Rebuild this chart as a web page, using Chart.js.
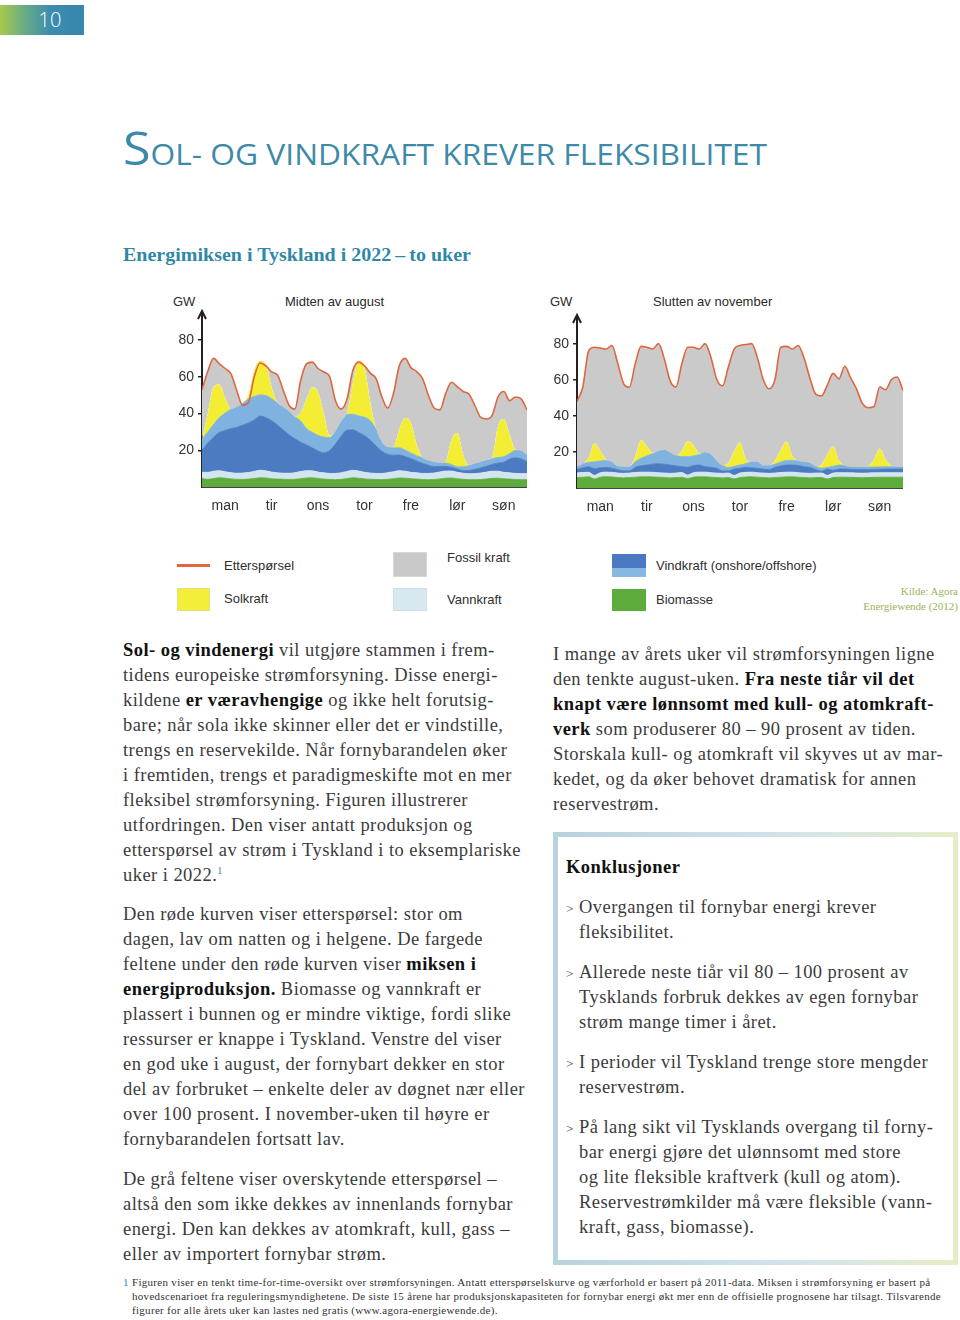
<!DOCTYPE html>
<html lang="no">
<head>
<meta charset="utf-8">
<title>Sol- og vindkraft krever fleksibilitet</title>
<script src="https://cdn.jsdelivr.net/npm/chart.js@4.4.1/dist/chart.umd.min.js"></script>
<style>
  html, body { margin: 0; padding: 0; background: #fff; }
  body { width: 960px; height: 1320px; position: relative; overflow: hidden;
         font-family: 'Liberation Serif', 'Times New Roman', serif; color: #3b3b3b; }
  .abs { position: absolute; white-space: nowrap; }
  #pageno { left: 0; top: 5px; width: 84px; height: 30px; padding-left: 16px; box-sizing: border-box;
            background: linear-gradient(to right, #a9c94b 0%, #67ab86 30%, #3b8dad 60%, #3786ae 100%);
            color: #fff; font: 300 20px 'Open Sans', sans-serif; line-height: 30px; text-align: center; }
  #title { left: 123px; top: 120px; color: #3d8aa8; font-family: 'Open Sans', sans-serif; line-height: 54px;
           transform-origin: 0 50%; }
  #subtitle { left: 123px; top: 244px; font: bold 19px 'Liberation Serif', serif; color: #2f88a5;
              transform-origin: 0 50%; }
  .clab { font: 13px 'Liberation Sans', Arial, sans-serif; color: #2a2a2a; line-height: 16px; }
  canvas { position: absolute; }
  .sw { position: absolute; box-sizing: border-box; }
  .legt { font: 13px 'Liberation Sans', Arial, sans-serif; color: #2e2e2e; line-height: 18px; }
  #kilde { right: 2px; top: 584px; font: 11px 'Liberation Serif', serif; color: #98b558;
           line-height: 15px; text-align: right; }
  .txt { font-size: 18.5px; letter-spacing: 0.45px; line-height: 25px; color: #3b3b3b; }
  .txt b { color: #111; }
  .fn { color: #3b7fb0; font-size: 10px; position: relative; top: -7px; line-height: 0; }
  #box { position: absolute; left: 553px; top: 832px; width: 405px; height: 433px; box-sizing: border-box;
         border: 5px solid; border-image: linear-gradient(to right, #b8d2de, #d3e4ea 60%, #e4eec6) 1; }
  .bul { font-size: 13px; color: #444; }
  .foot { font-size: 11px; letter-spacing: 0.3px; line-height: 14px; color: #333; }
</style>
</head>
<body>

<div id="pageno" class="abs">10</div>
<div id="title" class="abs"><span style="font-size:46px">S</span><span style="font-size:29px">OL- OG VINDKRAFT KREVER FLEKSIBILITET</span></div>
<div id="subtitle" class="abs">Energimiksen i Tyskland i 2022&thinsp;–&thinsp;to uker</div>

<div class="clab abs" style="left:173px;top:294px">GW</div>
<div class="clab abs" style="left:285px;top:294px">Midten av august</div>
<div class="clab abs" style="left:550px;top:294px">GW</div>
<div class="clab abs" style="left:653px;top:294px">Slutten av november</div>

<canvas id="augChart" width="367" height="212" style="left:160px;top:305px"></canvas>
<canvas id="novChart" width="368" height="213" style="left:535px;top:305px"></canvas>

<!-- Legend -->
<div class="sw" style="left:177px;top:564px;width:33px;height:3px;background:#e0663e"></div>
<div class="legt abs" style="left:224px;top:557px">Etterspørsel</div>
<div class="sw" style="left:177px;top:588px;width:33px;height:23px;background:#f2ee3a;border:1px solid #e4e07a"></div>
<div class="legt abs" style="left:224px;top:590px">Solkraft</div>
<div class="sw" style="left:393px;top:552px;width:34px;height:25px;background:#c9c9c9;border:1px solid #d6d6d6"></div>
<div class="legt abs" style="left:447px;top:549px">Fossil kraft</div>
<div class="sw" style="left:393px;top:588px;width:34px;height:23px;background:#d8e8f1;border:1px solid #cfdfe8"></div>
<div class="legt abs" style="left:447px;top:591px">Vannkraft</div>
<div class="sw" style="left:612px;top:554px;width:34px;height:23px;background:linear-gradient(to bottom,#4b79c1 0%,#4b79c1 60%,#86b8e2 62%,#86b8e2 100%)"></div>
<div class="legt abs" style="left:656px;top:557px">Vindkraft (onshore/offshore)</div>
<div class="sw" style="left:612px;top:589px;width:34px;height:22px;background:#5cab3c"></div>
<div class="legt abs" style="left:656px;top:591px">Biomasse</div>
<div id="kilde" class="abs">Kilde: Agora<br>Energiewende (2012)</div>

<!-- Left column -->
<div class="txt abs" style="left:123px;top:638px">
<b>Sol- og vindenergi</b> vil utgjøre stammen i frem-<br>
tidens europeiske strømforsyning. Disse energi-<br>
kildene <b>er væravhengige</b> og ikke helt forutsig-<br>
bare; når sola ikke skinner eller det er vindstille,<br>
trengs en reservekilde. Når fornybarandelen øker<br>
i fremtiden, trengs et paradigmeskifte mot en mer<br>
fleksibel strømforsyning. Figuren illustrerer<br>
utfordringen. Den viser antatt produksjon og<br>
etterspørsel av strøm i Tyskland i to eksemplariske<br>
uker i 2022.<span class="fn">1</span>
</div>
<div class="txt abs" style="left:123px;top:902px">
Den røde kurven viser etterspørsel: stor om<br>
dagen, lav om natten og i helgene. De fargede<br>
feltene under den røde kurven viser <b>miksen i</b><br>
<b>energiproduksjon.</b> Biomasse og vannkraft er<br>
plassert i bunnen og er mindre viktige, fordi slike<br>
ressurser er knappe i Tyskland. Venstre del viser<br>
en god uke i august, der fornybart dekker en stor<br>
del av forbruket – enkelte deler av døgnet nær eller<br>
over 100 prosent. I november-uken til høyre er<br>
fornybarandelen fortsatt lav.
</div>
<div class="txt abs" style="left:123px;top:1167px">
De grå feltene viser overskytende etterspørsel –<br>
altså den som ikke dekkes av innenlands fornybar<br>
energi. Den kan dekkes av atomkraft, kull, gass –<br>
eller av importert fornybar strøm.
</div>

<!-- Right column -->
<div class="txt abs" style="left:553px;top:642px">
I mange av årets uker vil strømforsyningen ligne<br>
den tenkte august-uken. <b>Fra neste tiår vil det</b><br>
<b>knapt være lønnsomt med kull- og atomkraft-</b><br>
<b>verk</b> som produserer 80 – 90 prosent av tiden.<br>
Storskala kull- og atomkraft vil skyves ut av mar-<br>
kedet, og da øker behovet dramatisk for annen<br>
reservestrøm.
</div>

<div id="box"></div>
<div class="txt abs" style="left:566px;top:855px"><b>Konklusjoner</b></div>
<div class="txt abs" style="left:566px;top:895px"><span class="bul">&gt;</span></div>
<div class="txt abs" style="left:579px;top:895px">Overgangen til fornybar energi krever<br>fleksibilitet.</div>
<div class="txt abs" style="left:566px;top:960px"><span class="bul">&gt;</span></div>
<div class="txt abs" style="left:579px;top:960px">Allerede neste tiår vil 80 – 100 prosent av<br>Tysklands forbruk dekkes av egen fornybar<br>strøm mange timer i året.</div>
<div class="txt abs" style="left:566px;top:1050px"><span class="bul">&gt;</span></div>
<div class="txt abs" style="left:579px;top:1050px">I perioder vil Tyskland trenge store mengder<br>reservestrøm.</div>
<div class="txt abs" style="left:566px;top:1115px"><span class="bul">&gt;</span></div>
<div class="txt abs" style="left:579px;top:1115px">På lang sikt vil Tysklands overgang til forny-<br>bar energi gjøre det ulønnsomt med store<br>og lite fleksible kraftverk (kull og atom).<br>Reservestrømkilder må være fleksible (vann-<br>kraft, gass, biomasse).</div>

<!-- Footnote -->
<div class="foot abs" style="left:123px;top:1275px;color:#3b7fb0">1</div>
<div class="foot abs" style="left:132px;top:1275px">
Figuren viser en tenkt time-for-time-oversikt over strømforsyningen. Antatt etterspørselskurve og værforhold er basert på 2011-data. Miksen i strømforsyning er basert på<br>
hovedscenarioet fra reguleringsmyndighetene. De siste 15 årene har produksjonskapasiteten for fornybar energi økt mer enn de offisielle prognosene har tilsagt. Tilsvarende<br>
figurer for alle årets uker kan lastes ned gratis (www.agora-energiewende.de).
</div>

<script>
// Data: GW, sampled every 3 hours (8 points per day), monday 00 to sunday 24
const STEPS_PER_DAY = 8;
const dayLabels = ['man', 'tir', 'ons', 'tor', 'fre', 'lør', 'søn'];
const yTicks = [20, 40, 60, 80];

// Midten av august
const augDemand = [53,63,70,67,64.5,61.6,52.4,44.5, 46,60,67.5,66,62.7,61,52.7,44.5,
  42.4,58,67,68,64.5,62.6,60,47, 42.4,48,63.5,68,66,62,59,49,
  43,51,66,70,65,62.8,59,50, 43,42,51,57,54.5,52,50.5,44.5,
  38,37,39,49,52,47,49,48,42];
const augBiomasse = [4.5,4.2,4.6,5.0,4.8,4.4,4.2,4.1, 4.3,4.6,5.0,4.9,4.5,4.3,4.2,4.1,
  4.2,4.5,4.9,5.0,4.6,4.3,4.1,4.0, 4.2,4.6,5.0,4.8,4.4,4.2,4.1,4.0,
  4.2,4.5,4.9,4.8,4.5,4.3,4.1,4.0, 4.1,4.4,4.8,4.9,4.5,4.2,4.0,4.0,
  4.1,4.4,4.7,4.8,4.5,4.3,4.1,4.0,4.0];
const augVannkraft = [3.5,3.8,4.0,3.8,3.5,3.4,3.3,3.5, 3.6,3.9,4.1,3.9,3.6,3.4,3.3,3.4,
  3.6,3.9,4.0,3.8,3.5,3.4,3.3,3.4, 3.6,3.9,4.1,3.9,3.6,3.4,3.3,3.4,
  3.6,3.8,4.0,3.8,3.5,3.4,3.3,3.4, 3.5,3.8,3.9,3.8,3.5,3.3,3.2,3.3,
  3.5,3.7,3.9,3.8,3.5,3.4,3.3,3.3,3.4];
const augVindOnshore = [12,16,18.5,21,22.5,24,25,26, 27,28,29.5,29,28,26,23.5,21,
  18.5,16,14,12.5,11.5,11,12.5,16, 20,22.5,22,21,20,18,15,12,
  10,9,8.5,8,7.5,6.5,5.5,4.5, 3.5,3,2.5,2,1.8,1.5,1.8,2.3,
  2.8,3.2,3.7,4.5,5.5,7.5,8.5,8,6.4];
const augVindOffshore = [6,6,7,8,9.5,10.5,11,12, 13,12.8,11.5,12,12,12,12.5,12.6,
  12,11.5,9,8.5,8.5,8.5,7,7, 8,8.5,8.5,9,10,10.5,9,5,
  4,4,4,3.5,3,2.8,3,2.5, 2.5,2,1.8,1.5,1.2,2,2.7,3.2,
  3.2,3.2,3.1,3,3,3,4,4.5,3.6];
const augSolkraft = [0,10,20.5,18,8,0,0,0, 2,14,18.5,17,6,0,0,0,
  0,4.5,16,24.5,23.5,12.5,1,0, 0,1,17,30,27,10,0,0,
  0,0.5,10,17.5,16.5,6,0,0, 0,0,1,13.5,18.5,6.5,0,0,
  0,0,0.5,17,20.5,10.5,0.5,0,0];

// Slutten av november
const novDemand = [48,56,76,78,77.5,77,79,69, 58,55.8,68.7,78.5,78,77,80,71.5,
  59.4,56,68.7,78,78,77,80,72.5, 60.3,56.6,67,77,79,79.5,80,72,
  60,55,60,78,78.5,77,79,72, 61,52,51,57,63.5,60.5,67.5,61,
  55,47,44.5,45,56,54.5,60,61.5,54];
const novBiomasse = [5.8,6.0,6.2,5.0,6.0,6.2,6.1,5.8, 5.6,5.8,6.0,6.2,6.2,6.1,6.0,5.8,
  5.6,5.8,6.0,5.2,6.0,6.2,6.2,6.0, 5.8,5.6,5.8,5.0,5.8,6.1,6.2,6.0,
  5.8,5.6,5.8,6.0,6.2,6.2,6.0,5.8, 5.6,5.8,5.8,5.0,5.8,6.0,6.0,5.9,
  5.8,5.7,5.8,5.9,6.0,6.0,6.0,6.0,6.0];
const novVannkraft = [2.6,2.6,2.5,2.0,2.5,2.6,2.6,2.5, 2.5,2.5,2.6,2.6,2.6,2.6,2.5,2.5,
  2.5,2.5,2.6,2.0,2.5,2.6,2.6,2.5, 2.5,2.5,2.5,2.0,2.5,2.6,2.6,2.5,
  2.5,2.5,2.5,2.6,2.6,2.6,2.5,2.5, 2.5,2.5,2.5,2.0,2.5,2.5,2.5,2.5,
  2.5,2.5,2.5,2.5,2.5,2.5,2.5,2.5,2.5];
const novVindOnshore = [2.0,2.6,3.1,3.8,2.7,2.6,2.3,1.9, 1.4,1.2,2.9,3.5,3.9,4.5,5.0,4.9,
  4.6,4.0,3.2,4.3,4.0,3.9,3.0,3.0, 2.6,1.4,1.2,3.5,2.6,2.8,2.4,2.4,
  2.2,2.1,3.2,3.6,3.9,3.9,4.0,3.5, 3.4,1.9,1.0,3.5,1.5,2.0,2.0,2.0,
  2.0,2.0,1.9,1.9,1.9,2.0,2.0,2.0,2.0];
const novVindOffshore = [1.3,2.3,2.4,3.7,3.8,3.9,3.5,1.8, 2.3,2.3,3.0,4.2,5.1,5.8,7.0,8.0,
  6.8,5.7,5.6,5.9,5.3,5.8,8.0,7.0, 4.1,3.0,1.8,1.5,1.8,2.0,3.4,3.7,
  2.0,2.3,1.7,2.2,2.6,2.6,2.5,2.7, 2.3,1.8,1.7,1.0,2.2,2.2,2.0,1.4,
  1.4,1.4,1.4,1.3,1.3,1.3,1.3,1.3,1.3];
const novSolkraft = [0,0,2.5,10.5,5.5,0.5,0,0, 0,0,3,10,5.5,0.5,0,0,
  0,0,3,8.5,6,0.5,0,0, 0,0,2.5,8.5,12.5,2.5,0,0,
  0,0,2,7,10.5,2.5,0,0, 0,0,2,7,11,2.5,0,0,
  0,0,0.5,4,10,4,0.5,0,0];

const COLORS = {
  biomasse: '#5dac3c',
  vannkraft: '#d3e6ef',
  vindOn: '#4c7bc1',
  vindOff: '#7fb2df',
  sol: '#f3ee34',
  fossil: '#cacaca',
  demand: '#df663f',
  axis: '#222'
};

Chart.defaults.font.family = "'Liberation Sans', Arial, sans-serif";
Chart.defaults.color = '#2a2a2a';

const toPoints = arr => arr.map((v, i) => ({ x: i / STEPS_PER_DAY, y: v }));

// Pil på toppen av y-aksen
const axisArrow = {
  id: 'axisArrow',
  afterDraw(chart) {
    const { ctx, chartArea } = chart;
    const x = chartArea.left, y = chartArea.top;
    ctx.save();
    ctx.strokeStyle = COLORS.axis;
    ctx.lineWidth = 2;
    ctx.beginPath();
    ctx.moveTo(x, y + 4);
    ctx.lineTo(x, y - 6);
    ctx.stroke();
    ctx.beginPath();
    ctx.moveTo(x - 4, y + 1);
    ctx.lineTo(x, y - 7);
    ctx.lineTo(x + 4, y + 1);
    ctx.stroke();
    ctx.restore();
  }
};

function areaSet(label, data, color, fill, border) {
  return {
    label, data: toPoints(data), fill,
    backgroundColor: color, borderColor: color, borderWidth: border,
    pointRadius: 0, cubicInterpolationMode: 'monotone'
  };
}

function buildChart(id, s, padTop) {
  return new Chart(document.getElementById(id), {
    type: 'line',
    data: {
      datasets: [
        areaSet('Biomasse', s.biomasse, COLORS.biomasse, 'origin', 0.8),
        areaSet('Vannkraft', s.vannkraft, COLORS.vannkraft, '-1', 0.8),
        areaSet('Vindkraft (onshore)', s.vindOn, COLORS.vindOn, '-1', 0.8),
        areaSet('Vindkraft (offshore)', s.vindOff, COLORS.vindOff, '-1', 0.8),
        areaSet('Solkraft', s.sol, COLORS.sol, '-1', 0),
        {
          label: 'Etterspørsel', data: toPoints(s.demand), stack: 'demand', order: -1,
          borderColor: COLORS.demand, borderWidth: 1.6, pointRadius: 0,
          cubicInterpolationMode: 'monotone',
          fill: { target: 4, above: COLORS.fossil, below: 'rgba(0,0,0,0)' }
        }
      ]
    },
    options: {
      responsive: false,
      animation: false,
      devicePixelRatio: 1,
      layout: { padding: { top: padTop, right: 0, left: 0, bottom: 0 } },
      plugins: { legend: { display: false }, tooltip: { enabled: false } },
      scales: {
        x: {
          type: 'linear', min: 0, max: 7,
          afterBuildTicks: sc => { sc.ticks = dayLabels.map((_, i) => ({ value: i + 0.5 })); },
          afterFit: sc => { sc.height = 30; },
          ticks: { callback: (v, i) => dayLabels[i], autoSkip: false, maxRotation: 0,
                   padding: 3, font: { size: 14 }, color: '#333' },
          grid: { display: false },
          border: { display: true, color: '#444', width: 2 }
        },
        y: {
          stacked: true, min: 0, max: 92,
          afterBuildTicks: sc => { sc.ticks = yTicks.map(v => ({ value: v })); },
          afterFit: sc => { sc.width = 42; },
          ticks: { padding: 4, font: { size: 14 }, color: '#333' },
          grid: { drawOnChartArea: false, drawTicks: true, tickLength: 4, color: COLORS.axis, lineWidth: 1.5 },
          border: { display: true, color: COLORS.axis, width: 2 }
        }
      }
    },
    plugins: [axisArrow]
  });
}

buildChart('augChart', {
  demand: augDemand, biomasse: augBiomasse, vannkraft: augVannkraft,
  vindOn: augVindOnshore, vindOff: augVindOffshore, sol: augSolkraft
}, 13);

buildChart('novChart', {
  demand: novDemand, biomasse: novBiomasse, vannkraft: novVannkraft,
  vindOn: novVindOnshore, vindOff: novVindOffshore, sol: novSolkraft
}, 17);

// Tilpass bredden på overskriftene
function fitWidth(id, target) {
  const el = document.getElementById(id);
  const w = el.getBoundingClientRect().width;
  if (w > 0) el.style.transform = 'scaleX(' + (target / w) + ')';
}
fitWidth('title', 644);
fitWidth('subtitle', 348);
</script>
</body>
</html>
